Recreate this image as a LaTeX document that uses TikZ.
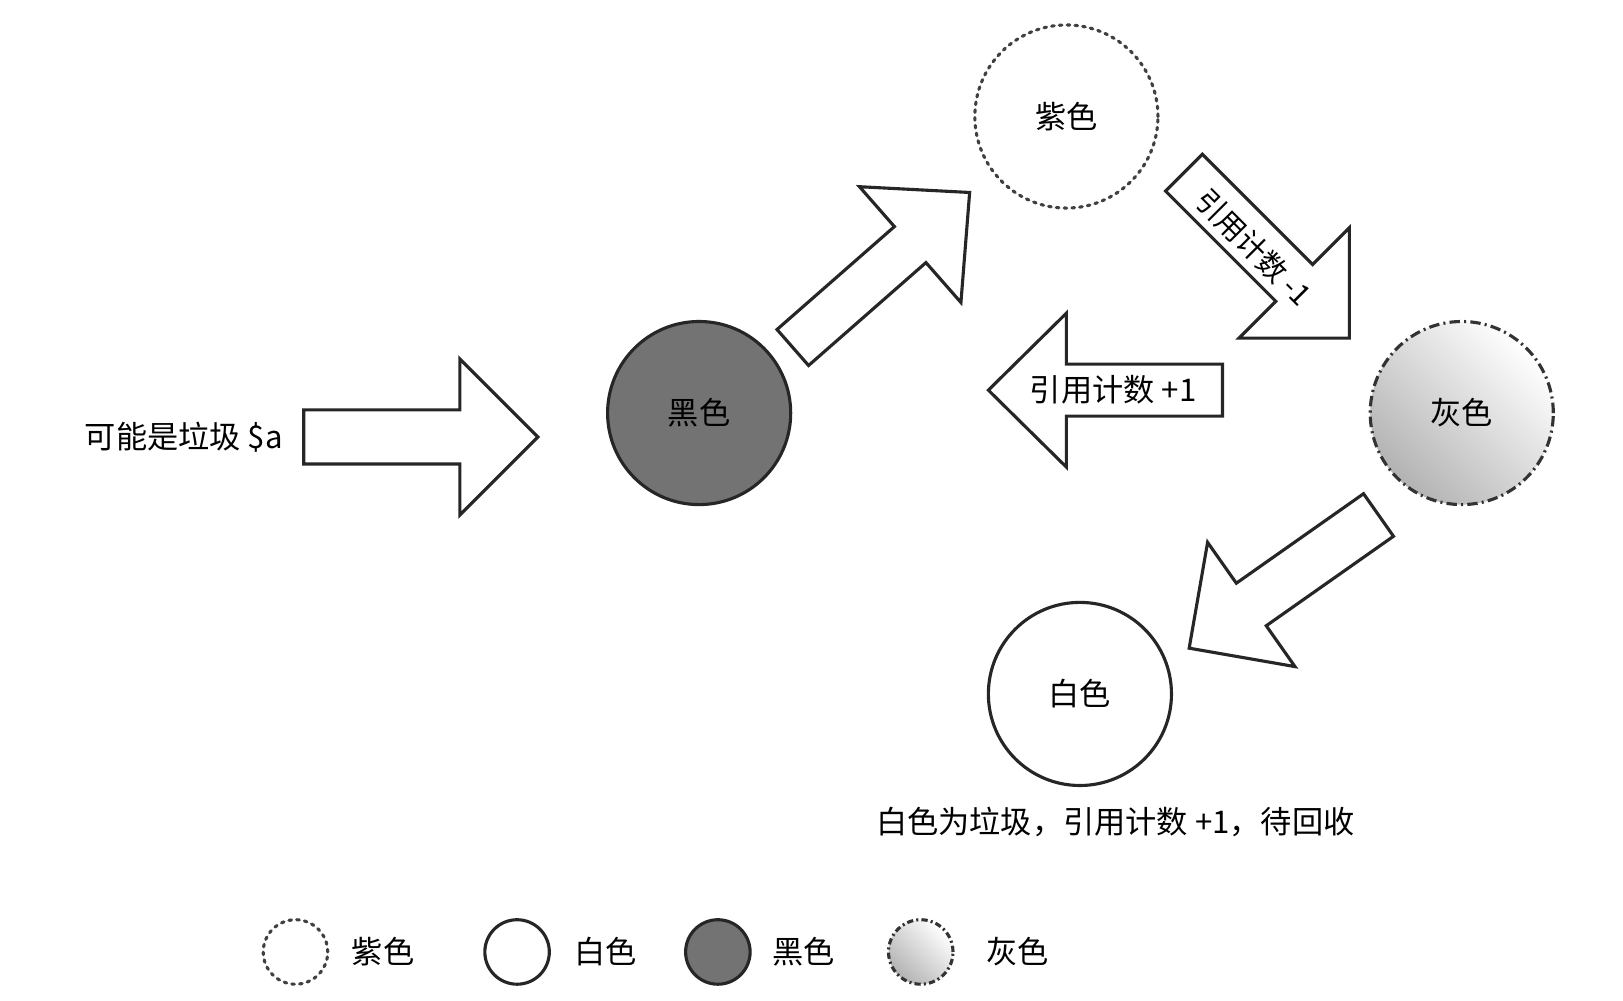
\documentclass[tikz,border=0pt]{standalone}
\usepackage{fontspec}
\setmainfont{Noto Sans CJK SC}
\usetikzlibrary{calc}
\newcommand\blockarr[5]{% A B w h k
  \coordinate (ba@c) at ($(#2)!#5pt!(#1)$);
  \draw[barr] ($(#1)!#3pt!90:(#2)$) -- ($(ba@c)!#3pt!-90:(#1)$) -- ($(ba@c)!#4pt!-90:(#1)$) -- (#2) -- ($(ba@c)!#4pt!90:(#1)$) -- ($(ba@c)!#3pt!90:(#1)$) -- ($(#1)!#3pt!-90:(#2)$) -- cycle;}
\begin{document}
\begin{tikzpicture}[x=1pt,y=-1pt,
  barr/.style={draw=black!85,line width=3pt,fill=white,line join=miter},
  base/.style={circle,minimum size=176pt,inner sep=0pt,line width=3pt,font=\fontsize{30}{36}\selectfont},
  purp/.style={base,draw=black!75,dash pattern=on 2.5pt off 5pt,line cap=round},
  whitec/.style={base,draw=black!85,fill=white},
  blackc/.style={base,draw=black!85,fill=black!55},
  grayc/.style={base,draw=black!80,dash pattern=on 10pt off 4pt on 2pt off 4pt,left color=white,right color=black!30,shading angle=-45},
  sm/.style={minimum size=62pt,line width=3pt},
  lbl/.style={font=\fontsize{30}{36}\selectfont,inner sep=0pt}]
\useasboundingbox (0,0) rectangle (1560,962);
\node[blackc] (k) at (672,397) {黑色};
\node[purp] (p) at (1025,112) {紫色};
\node[grayc] (g) at (1405,397) {灰色};
\node[whitec] (w) at (1038,667) {白色};
\node[lbl,anchor=east] (t) at (272,420) {可能是垃圾 \$a};
\coordinate (a1s) at (292,420); \coordinate (a1e) at (517,420);
\blockarr{a1s}{a1e}{26}{75}{75}
\coordinate (a2s) at (762,334); \coordinate (a2e) at (932,185);
\blockarr{a2s}{a2e}{23}{74}{76}
\coordinate (a3s) at (1138,166); \coordinate (a3e) at (1297,325);
\blockarr{a3s}{a3e}{25}{75}{75}
\node[lbl,rotate=-45,font=\fontsize{28}{34}\selectfont] (l3) at (1205,238) {引用计数 -1};
\coordinate (a4s) at (1175,375); \coordinate (a4e) at (950,375);
\blockarr{a4s}{a4e}{25}{74}{75}
\node[lbl] (l4) at (1070,375) {引用计数 +1};
\coordinate (a5s) at (1325,495); \coordinate (a5e) at (1143,623);
\blockarr{a5s}{a5e}{25}{73}{73}
\node[lbl] (cap) at (1072,790) {白色为垃圾，引用计数 +1，待回收};
\node[purp,sm] (lp) at (284,915) {};
\node[lbl,anchor=west] at (338,915) {紫色};
\node[whitec,sm] (lw) at (497,915) {};
\node[lbl,anchor=west] at (552,915) {白色};
\node[blackc,sm] (lk) at (690,915) {};
\node[lbl,anchor=west] at (742,915) {黑色};
\node[grayc,sm,dash pattern=on 6pt off 3pt on 2pt off 3pt] (lg) at (885,915) {};
\node[lbl,anchor=west] at (948,915) {灰色};
\end{tikzpicture}
\end{document}
